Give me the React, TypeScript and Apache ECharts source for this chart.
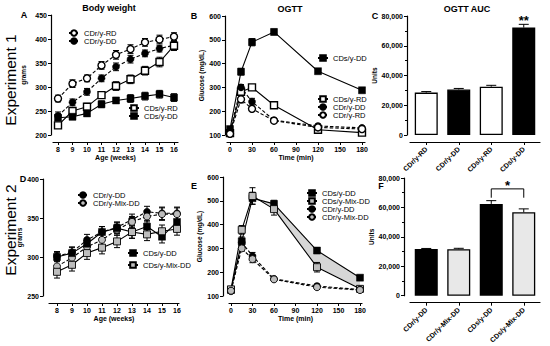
import React, { useEffect, useRef } from 'react';
import * as echarts from 'echarts';

const FONT = 'Liberation Sans, Arial, sans-serif';

// ---- Panel A: Body weight, Experiment 1 ----
const weeks = [8, 9, 10, 11, 12, 13, 14, 15, 16];
const aCDrRD = [276, 307, 318, 345, 367, 379, 393, 399, 405];
const aCDrRDErr = [7, 8, 7, 8, 9, 9, 8, 9, 8];
const aCDrDD = [240, 268, 290, 318, 342, 358, 370, 380, 387];
const aCDrDDErr = [8, 7, 7, 7, 8, 8, 7, 7, 8];
const aCDsRD = [220, 250, 259, 283, 302, 316, 334, 352, 386];
const aCDsRDErr = [5, 7, 7, 7, 9, 9, 9, 10, 10];
const aCDsDD = [236, 238, 245, 264, 272, 276, 281, 285, 278];
const aCDsDDErr = [6, 6, 6, 7, 6, 8, 8, 8, 8];

// ---- Panel B: OGTT, Experiment 1 ----
const minutes = [0, 15, 30, 60, 120, 180];
const minuteTicks = [0, 30, 60, 90, 120, 150, 180];
const bCDsDD = [125, 366, 490, 533, 368, 288];
const bCDsDDErr = [10, 14, 15, 12, 10, 10];
const bCDsRD = [108, 282, 300, 225, 122, 110];
const bCDsRDErr = [8, 10, 10, 8, 6, 6];
const bCDrDD = [115, 300, 240, 162, 138, 130];
const bCDrDDErr = [8, 12, 14, 8, 8, 6];
const bCDrRD = [105, 250, 210, 160, 132, 125];
const bCDrRDErr = [8, 15, 8, 6, 6, 6];

// ---- Panel C: OGTT AUC, Experiment 1 ----
const cGroups = ['CDr/y-RD', 'CDr/y-DD', 'CDs/y-RD', 'CDs/y-DD'];
const cAUC = [28500, 30600, 32500, 72200];
const cAUCErr = [700, 700, 900, 2200];
const cMarks = ['', '', '', '**'];

// ---- Panel D: Body weight, Experiment 2 ----
const dCDrDD = [301, 306, 322, 332, 338, 348, 358, 356, 356];
const dCDrDDErr = [6, 7, 7, 7, 7, 7, 7, 8, 8];
const dCDrMix = [288, 299, 313, 322, 335, 345, 352, 355, 355];
const dCDrMixErr = [7, 7, 8, 8, 7, 7, 7, 8, 8];
const dCDsDD = [300, 305, 317, 332, 337, 332, 339, 326, 345];
const dCDsDDErr = [6, 7, 7, 7, 7, 8, 8, 8, 8];
const dCDsMix = [281, 290, 305, 312, 320, 332, 329, 333, 336];
const dCDsMixErr = [8, 8, 8, 8, 8, 8, 8, 8, 8];

// ---- Panel E: OGTT, Experiment 2 ----
const eCDsDD = [125, 330, 511, 487, 291, 177];
const eCDsDDErr = [8, 18, 25, 15, 12, 8];
const eCDsMix = [128, 378, 520, 465, 221, 130];
const eCDsMixErr = [8, 18, 35, 25, 20, 10];
const eCDrDD = [120, 325, 268, 172, 142, 127];
const eCDrDDErr = [8, 15, 15, 6, 8, 6];
const eCDrMix = [122, 300, 255, 170, 137, 125];
const eCDrMixErr = [8, 12, 15, 6, 8, 6];
const eBandStart = 2;

// ---- Panel F: OGTT AUC, Experiment 2 ----
const fGroups = ['CDr/y-DD', 'CDr/y-Mix-DD', 'CDs/y-DD', 'CDs/y-Mix-DD'];
const fAUC = [31800, 31600, 62400, 56700];
const fAUCErr = [300, 600, 2200, 2300];
const fCompare = [2, 3];
const fCompareMark = '*';

function styleFor(name: string) {
  const isR = name.startsWith('CDr');
  const open = name.endsWith('-RD');
  const mix = name.includes('Mix');
  const fill = open ? '#ffffff' : mix ? '#bdbdbd' : '#000000';
  return {
    symbol: isR ? 'circle' : 'rect',
    symbolSize: 7,
    lineStyle: { color: '#000', width: 1.1, type: isR ? [3.5, 2] : 'solid' },
    itemStyle: { color: fill, borderColor: '#000', borderWidth: open ? 1.4 : mix ? 0.9 : 0.5 },
  };
}

function lineSeries(name: string, axis: number, xs: number[], ys: number[]) {
  return {
    type: 'line', name, xAxisIndex: axis, yAxisIndex: axis,
    data: xs.map((x, i) => [x, ys[i]]),
    showSymbol: true, z: 4, silent: true, emphasis: { disabled: true },
    ...styleFor(name),
  };
}

function errSeries(axis: number, xs: number[], ys: number[], errs: number[], both = true, cap = 3) {
  return {
    type: 'custom', xAxisIndex: axis, yAxisIndex: axis, z: 3, silent: true,
    data: xs.map((x, i) => [x, ys[i], errs[i]]),
    renderItem: (_p: any, api: any) => {
      const x = api.value(0), y = api.value(1), e = api.value(2);
      const t = api.coord([x, y + e]);
      const b = api.coord([x, both ? y - e : y]);
      const st = { stroke: '#000', lineWidth: 1 };
      const children: any[] = [
        { type: 'line', shape: { x1: t[0], y1: t[1], x2: b[0], y2: b[1] }, style: st },
        { type: 'line', shape: { x1: t[0] - cap, y1: t[1], x2: t[0] + cap, y2: t[1] }, style: st },
      ];
      if (both) children.push({ type: 'line', shape: { x1: b[0] - cap, y1: b[1], x2: b[0] + cap, y2: b[1] }, style: st });
      return { type: 'group', children };
    },
  };
}

const axisLine = { show: true, onZero: false, lineStyle: { color: '#000', width: 1.2 } };
const axisTick = { show: true, length: 3, lineStyle: { color: '#000', width: 1 } };
const tickFont = { fontFamily: FONT, fontSize: 7, fontWeight: 'bold' as const, color: '#000' };
const nameFont = { fontFamily: FONT, fontSize: 7, fontWeight: 'bold' as const, color: '#000' };

function valueX(grid: number, min: number, max: number, ticks: number[], name: string, nameGap: number) {
  return {
    type: 'value', gridIndex: grid, min, max, offset: 7,
    axisLine, axisTick: { ...axisTick, customValues: ticks },
    axisLabel: { ...tickFont, margin: 4, customValues: ticks },
    splitLine: { show: false },
    name, nameLocation: 'middle', nameGap, nameTextStyle: nameFont,
  };
}

function valueY(grid: number, min: number, max: number, interval: number, offset: number, name: string, nameGap: number, fmt?: (v: number) => string, minor = false) {
  return {
    type: 'value', gridIndex: grid, min, max, interval, offset,
    axisLine, axisTick,
    minorTick: { show: minor, splitNumber: 2, length: 2, lineStyle: { color: '#000', width: 1 } },
    axisLabel: { ...tickFont, margin: 4, formatter: fmt },
    splitLine: { show: false },
    name, nameLocation: 'middle', nameGap, nameRotate: 90,
    nameTextStyle: { fontFamily: FONT, fontSize: 6.5, fontWeight: 'bold' as const, color: '#000' },
  };
}

function catX(grid: number, cats: string[]) {
  return {
    type: 'category', gridIndex: grid, data: cats, offset: 7,
    axisLine, axisTick: { ...axisTick, alignWithLabel: true },
    axisLabel: { ...tickFont, fontSize: 7, rotate: 45, margin: 6, interval: 0 },
    splitLine: { show: false },
  };
}

function legend(names: string[], left: number, top: number, gap = 0) {
  return {
    data: names, orient: 'vertical', left, top, padding: 0,
    itemWidth: 10, itemHeight: 7, itemGap: gap, selectedMode: false,
    textStyle: { fontFamily: FONT, fontSize: 7.5, lineHeight: 8, color: '#000' },
  };
}

const commaFmt = (v: number) => v.toLocaleString('en-US');

function barSeries(axis: number, groups: string[], values: number[], marks: string[] | null) {
  return {
    type: 'bar', name: 'AUC' + axis, xAxisIndex: axis, yAxisIndex: axis, barWidth: 23, z: 2, silent: true,
    data: values.map((v, i) => {
      const g = groups[i];
      const open = g.endsWith('-RD');
      const mix = g.includes('Mix');
      const item: any = {
        value: v,
        itemStyle: {
          color: open ? '#ffffff' : mix ? '#e8e8e8' : '#000000',
          borderColor: '#000', borderWidth: 1.3,
        },
      };
      if (marks && marks[i]) {
        item.label = {
          show: true, formatter: marks[i], position: 'top', distance: 1,
          fontFamily: FONT, fontSize: 13, fontWeight: 'bold', color: '#000',
        };
      }
      return item;
    }),
  };
}

function text(t: string, x: number, y: number, size: number, bold = true, rotation = 0) {
  return {
    type: 'text', x, y, rotation,
    style: { text: t, fontFamily: FONT, fontSize: size, fontWeight: bold ? 'bold' : 'normal', fill: '#000', align: 'center', verticalAlign: 'middle' },
  };
}

export default function App() {
  const ref = useRef<HTMLDivElement>(null);
  useEffect(() => {
    if (!ref.current) return;
    const chart = echarts.init(ref.current, null, { renderer: 'svg', width: 550, height: 346 });
    const idx = [0, 1, 2, 3];
    const option: any = {
      animation: false,
      backgroundColor: '#ffffff',
      grid: [
        { left: 53, top: 15, width: 125, height: 120 },
        { left: 227, top: 16, width: 138, height: 119 },
        { left: 410, top: 16, width: 130, height: 119 },
        { left: 49, top: 179, width: 130, height: 117 },
        { left: 229, top: 177, width: 133, height: 119 },
        { left: 410, top: 178, width: 130, height: 118 },
      ],
      xAxis: [
        valueX(0, 7.655, 16.276, weeks, 'Age (weeks)', 11),
        valueX(1, -4.09, 184.1, minuteTicks, 'Time (min)', 11),
        catX(2, cGroups),
        valueX(3, 7.467, 16.133, weeks, 'Age (weeks)', 10.5),
        valueX(4, -2.79, 182.8, minuteTicks, 'Time (min)', 11.5),
        catX(5, fGroups),
      ],
      yAxis: [
        valueY(0, 200, 450, 50, 2, 'grams', 24),
        valueY(1, 100, 600, 100, 2, 'Glucose (mg/dL)', 17),
        valueY(2, 0, 80000, 20000, 3, 'Units', 22, commaFmt, true),
        valueY(3, 250, 400, 50, 6, 'grams', 17),
        valueY(4, 100, 600, 100, 6, 'Glucose (mg/dL)', 15),
        valueY(5, 0, 80000, 20000, 6, 'Units', 19, commaFmt, true),
      ],
      legend: [
        legend(['CDr/y-RD', 'CDr/y-DD'], 68, 29),
        legend(['CDs/y-RD', 'CDs/y-DD'], 128, 104),
        legend(['CDs/y-DD'], 317, 54),
        legend(['CDs/y-RD', 'CDr/y-DD', 'CDr/y-RD'], 317, 95),
        legend(['CDr/y-DD', 'CDr/y-Mix-DD'], 77, 191),
        legend(['CDs/y-DD', 'CDs/y-Mix-DD'], 127, 249, 4),
        legend(['CDs/y-DD', 'CDs/y-Mix-DD', 'CDr/y-DD', 'CDr/y-Mix-DD'], 306, 189),
      ],
      series: [
        // A
        errSeries(0, weeks, aCDrRD, aCDrRDErr),
        errSeries(0, weeks, aCDrDD, aCDrDDErr),
        errSeries(0, weeks, aCDsRD, aCDsRDErr),
        errSeries(0, weeks, aCDsDD, aCDsDDErr),
        lineSeries('CDr/y-RD', 0, weeks, aCDrRD),
        lineSeries('CDr/y-DD', 0, weeks, aCDrDD),
        lineSeries('CDs/y-RD', 0, weeks, aCDsRD),
        lineSeries('CDs/y-DD', 0, weeks, aCDsDD),
        // B
        errSeries(1, minutes, bCDsDD, bCDsDDErr),
        errSeries(1, minutes, bCDsRD, bCDsRDErr),
        errSeries(1, minutes, bCDrDD, bCDrDDErr),
        errSeries(1, minutes, bCDrRD, bCDrRDErr),
        lineSeries('CDs/y-DD', 1, minutes, bCDsDD),
        lineSeries('CDs/y-RD', 1, minutes, bCDsRD),
        lineSeries('CDr/y-DD', 1, minutes, bCDrDD),
        lineSeries('CDr/y-RD', 1, minutes, bCDrRD),
        // C
        barSeries(2, cGroups, cAUC, cMarks),
        errSeries(2, idx, cAUC, cAUCErr, false, 5),
        // D
        errSeries(3, weeks, dCDrDD, dCDrDDErr),
        errSeries(3, weeks, dCDrMix, dCDrMixErr),
        errSeries(3, weeks, dCDsDD, dCDsDDErr),
        errSeries(3, weeks, dCDsMix, dCDsMixErr),
        lineSeries('CDr/y-DD', 3, weeks, dCDrDD),
        lineSeries('CDr/y-Mix-DD', 3, weeks, dCDrMix),
        lineSeries('CDs/y-DD', 3, weeks, dCDsDD),
        lineSeries('CDs/y-Mix-DD', 3, weeks, dCDsMix),
        // E
        {
          type: 'custom', xAxisIndex: 4, yAxisIndex: 4, z: 1, silent: true,
          data: [[minutes[eBandStart], eCDsDD[eBandStart]]],
          renderItem: (_p: any, api: any) => {
            const ts = minutes.slice(eBandStart);
            const upper = ts.map((t, k) => api.coord([t, eCDsDD[eBandStart + k]]));
            const lower = ts.map((t, k) => api.coord([t, eCDsMix[eBandStart + k]])).reverse();
            return { type: 'polygon', shape: { points: [...upper, ...lower] }, style: { fill: '#d6d6d6' } };
          },
        },
        errSeries(4, minutes, eCDsDD, eCDsDDErr),
        errSeries(4, minutes, eCDsMix, eCDsMixErr),
        errSeries(4, minutes, eCDrDD, eCDrDDErr),
        errSeries(4, minutes, eCDrMix, eCDrMixErr),
        lineSeries('CDs/y-DD', 4, minutes, eCDsDD),
        lineSeries('CDs/y-Mix-DD', 4, minutes, eCDsMix),
        lineSeries('CDr/y-DD', 4, minutes, eCDrDD),
        lineSeries('CDr/y-Mix-DD', 4, minutes, eCDrMix),
        // F
        barSeries(5, fGroups, fAUC, null),
        errSeries(5, idx, fAUC, fAUCErr, false, 5),
        {
          type: 'custom', xAxisIndex: 5, yAxisIndex: 5, z: 5, silent: true,
          data: [[fCompare[0], 0]],
          renderItem: (_p: any, api: any) => {
            const top = Math.max(...fCompare.map((i) => fAUC[i] + fAUCErr[i])) + 8000;
            const a = api.coord([fCompare[0], top]);
            const b = api.coord([fCompare[1], top]);
            const a2 = api.coord([fCompare[0], top - 6000]);
            const b2 = api.coord([fCompare[1], top - 6000]);
            return {
              type: 'group',
              children: [
                { type: 'polyline', shape: { points: [a2, a, b, b2] }, style: { stroke: '#000', lineWidth: 1, fill: 'none' } },
                {
                  type: 'text',
                  style: {
                    text: fCompareMark, x: (a[0] + b[0]) / 2, y: a[1] + 3,
                    align: 'center', verticalAlign: 'bottom',
                    fontFamily: FONT, fontSize: 13, fontWeight: 'bold', fill: '#000',
                  },
                },
              ],
            };
          },
        },
      ],
      graphic: [
        text('Experiment 1', 10, 80, 15.5, false, Math.PI / 2),
        text('Experiment 2', 10, 230, 15.5, false, Math.PI / 2),
        text('Body weight', 109, 8, 9),
        text('OGTT', 290, 9, 9),
        text('OGTT AUC', 467, 9, 9),
        text('A', 24, 15, 9),
        text('B', 194, 16, 9),
        text('C', 375, 16, 9),
        text('D', 23, 179, 9),
        text('E', 194, 186, 9),
        text('F', 381, 186, 9),
      ],
    };
    chart.setOption(option);
    return () => chart.dispose();
  }, []);
  return (
    <div
      ref={ref}
      style={{ position: 'fixed', left: 0, top: 0, width: 550, height: 346, background: '#fff' }}
    />
  );
}
